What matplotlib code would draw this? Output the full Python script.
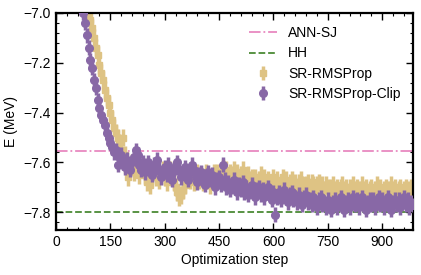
import matplotlib
matplotlib.use("Agg")
import matplotlib.pyplot as plt
from matplotlib.ticker import MultipleLocator

plt.rcParams['font.family'] = ['Liberation Sans', 'DejaVu Sans']

# ---- data ----
clip_start = 75
clip_E = [
    -7.00, -7.04, -7.09, -7.14, -7.19, -7.22, -7.27, -7.30, -7.35, -7.38,
    -7.41, -7.43, -7.45, -7.48, -7.50, -7.52, -7.54, -7.56, -7.55, -7.61,
    -7.58, -7.57, -7.60, -7.62, -7.59, -7.61, -7.63, -7.60, -7.58, -7.55,
    -7.57, -7.61, -7.63, -7.60, -7.64, -7.62, -7.60, -7.63, -7.65, -7.61,
    -7.62, -7.59, -7.63, -7.66, -7.64, -7.62, -7.65, -7.61, -7.64, -7.67,
    -7.63, -7.62, -7.60, -7.63, -7.66, -7.64, -7.62, -7.65, -7.67, -7.64,
    -7.61, -7.63, -7.66, -7.68, -7.65, -7.64, -7.67, -7.69, -7.66, -7.64,
    -7.67, -7.65, -7.68, -7.70, -7.67, -7.66, -7.69, -7.61, -7.67, -7.70,
    -7.68, -7.71, -7.69, -7.67, -7.70, -7.72, -7.69, -7.71, -7.68, -7.72,
    -7.70, -7.73, -7.71, -7.69, -7.72, -7.74, -7.71, -7.70, -7.73, -7.71,
    -7.74, -7.72, -7.70, -7.73, -7.75, -7.72, -7.81, -7.74, -7.72, -7.75,
    -7.73, -7.71, -7.74, -7.76, -7.73, -7.72, -7.75, -7.74, -7.76, -7.73,
    -7.75, -7.77, -7.74, -7.73, -7.76, -7.75, -7.77, -7.74, -7.76, -7.78,
    -7.75, -7.74, -7.77, -7.76, -7.78, -7.75, -7.77, -7.79, -7.76, -7.75,
    -7.78, -7.76, -7.74, -7.77, -7.79, -7.76, -7.75, -7.78, -7.76, -7.74,
    -7.77, -7.75, -7.78, -7.76, -7.74, -7.77, -7.79, -7.76, -7.75, -7.77,
    -7.75, -7.78, -7.76, -7.74, -7.77, -7.75, -7.78, -7.76, -7.74, -7.77,
    -7.79, -7.76, -7.75, -7.77, -7.75, -7.78, -7.76, -7.74, -7.77, -7.75,
    -7.78, -7.76, -7.77]
clip_err = 0.03

rms_start = 90
rms_E = [
    -7.00, -7.03, -7.06, -7.10, -7.14, -7.17, -7.21, -7.24, -7.27, -7.31,
    -7.34, -7.37, -7.40, -7.43, -7.46, -7.48, -7.50, -7.52, -7.55, -7.50,
    -7.57, -7.63, -7.66, -7.62, -7.60, -7.64, -7.58, -7.61, -7.65, -7.62,
    -7.62, -7.65, -7.68, -7.66, -7.69, -7.65, -7.63, -7.66, -7.64, -7.67,
    -7.65, -7.63, -7.66, -7.68, -7.65, -7.63, -7.66, -7.68, -7.70, -7.72,
    -7.74, -7.73, -7.71, -7.69, -7.66, -7.64, -7.67, -7.65, -7.68, -7.66,
    -7.64, -7.67, -7.65, -7.68, -7.66, -7.64, -7.67, -7.69, -7.66, -7.64,
    -7.66, -7.64, -7.66, -7.64, -7.62, -7.65, -7.63, -7.66, -7.64, -7.65,
    -7.63, -7.66, -7.64, -7.67, -7.65, -7.63, -7.66, -7.68, -7.65, -7.67,
    -7.66, -7.68, -7.66, -7.69, -7.67, -7.65, -7.68, -7.66, -7.69, -7.67,
    -7.70, -7.68, -7.66, -7.69, -7.67, -7.70, -7.68, -7.66, -7.69, -7.67,
    -7.70, -7.68, -7.67, -7.69, -7.68, -7.70, -7.68, -7.67, -7.69, -7.71,
    -7.69, -7.68, -7.70, -7.68, -7.69, -7.71, -7.69, -7.68, -7.70, -7.69,
    -7.71, -7.69, -7.70, -7.72, -7.70, -7.69, -7.71, -7.70, -7.72, -7.70,
    -7.69, -7.71, -7.70, -7.72, -7.70, -7.71, -7.69, -7.71, -7.70, -7.72,
    -7.71, -7.69, -7.71, -7.70, -7.72, -7.71, -7.70, -7.72, -7.71, -7.69,
    -7.71, -7.70, -7.72, -7.71, -7.70, -7.72, -7.71, -7.69, -7.71, -7.70,
    -7.72, -7.71, -7.70, -7.72, -7.71, -7.70, -7.72, -7.71, -7.70, -7.72]
rms_err = 0.035
step_interval = 5

clip_steps = list(range(clip_start, clip_start + step_interval * len(clip_E), step_interval))
rms_steps = list(range(rms_start, rms_start + step_interval * len(rms_E), step_interval))

ann_sj = -7.555
hh = -7.80

x_ticks = [0, 150, 300, 450, 600, 750, 900]
y_ticks = [-7.8, -7.6, -7.4, -7.2, -7.0]
y_ticklabels = ['\u22127.8', '\u22127.6', '\u22127.4', '\u22127.2', '\u22127.0']

tan = '#DEC384'
purple = '#8868A6'
pink = '#E889C0'
green = '#4B8A35'

# ---- figure ----
fig = plt.figure(figsize=(4.21, 2.75), dpi=100)
ax = fig.add_axes([0.133, 0.164, 0.848, 0.790])

ax.axhline(ann_sj, color=pink, ls='-.', lw=1.3, label='ANN-SJ', zorder=1)
ax.axhline(hh, color=green, ls='--', lw=1.3, label='HH', zorder=1)

ax.errorbar(rms_steps, rms_E, yerr=rms_err, fmt='s', color=tan, ms=5,
            elinewidth=2.5, capsize=0, label='SR-RMSProp', zorder=2)
ax.errorbar(clip_steps, clip_E, yerr=clip_err, fmt='o', color=purple, ms=5.5,
            elinewidth=2.5, capsize=0, label='SR-RMSProp-Clip', zorder=3)

ax.set_xlim(0, 985)
ax.set_ylim(-7.87, -7.0)
ax.set_xticks(x_ticks)
ax.set_yticks(y_ticks)
ax.set_yticklabels(y_ticklabels)
ax.xaxis.set_minor_locator(MultipleLocator(30))
ax.yaxis.set_minor_locator(MultipleLocator(0.04))
ax.tick_params(which='both', direction='in', top=True, right=True, labelsize=10)
ax.tick_params(which='major', length=5, width=1)
ax.tick_params(which='minor', length=2.5, width=0.8)
for s in ax.spines.values():
    s.set_linewidth(1.6)

ax.set_xlabel('Optimization step', fontsize=10, labelpad=3)
ax.set_ylabel('E (MeV)', fontsize=10)

ax.legend(loc='upper right', frameon=False, fontsize=10, bbox_to_anchor=(1.0, 0.995),
          handlelength=2.0, labelspacing=0.45)

fig.savefig('out.png', dpi=100)
